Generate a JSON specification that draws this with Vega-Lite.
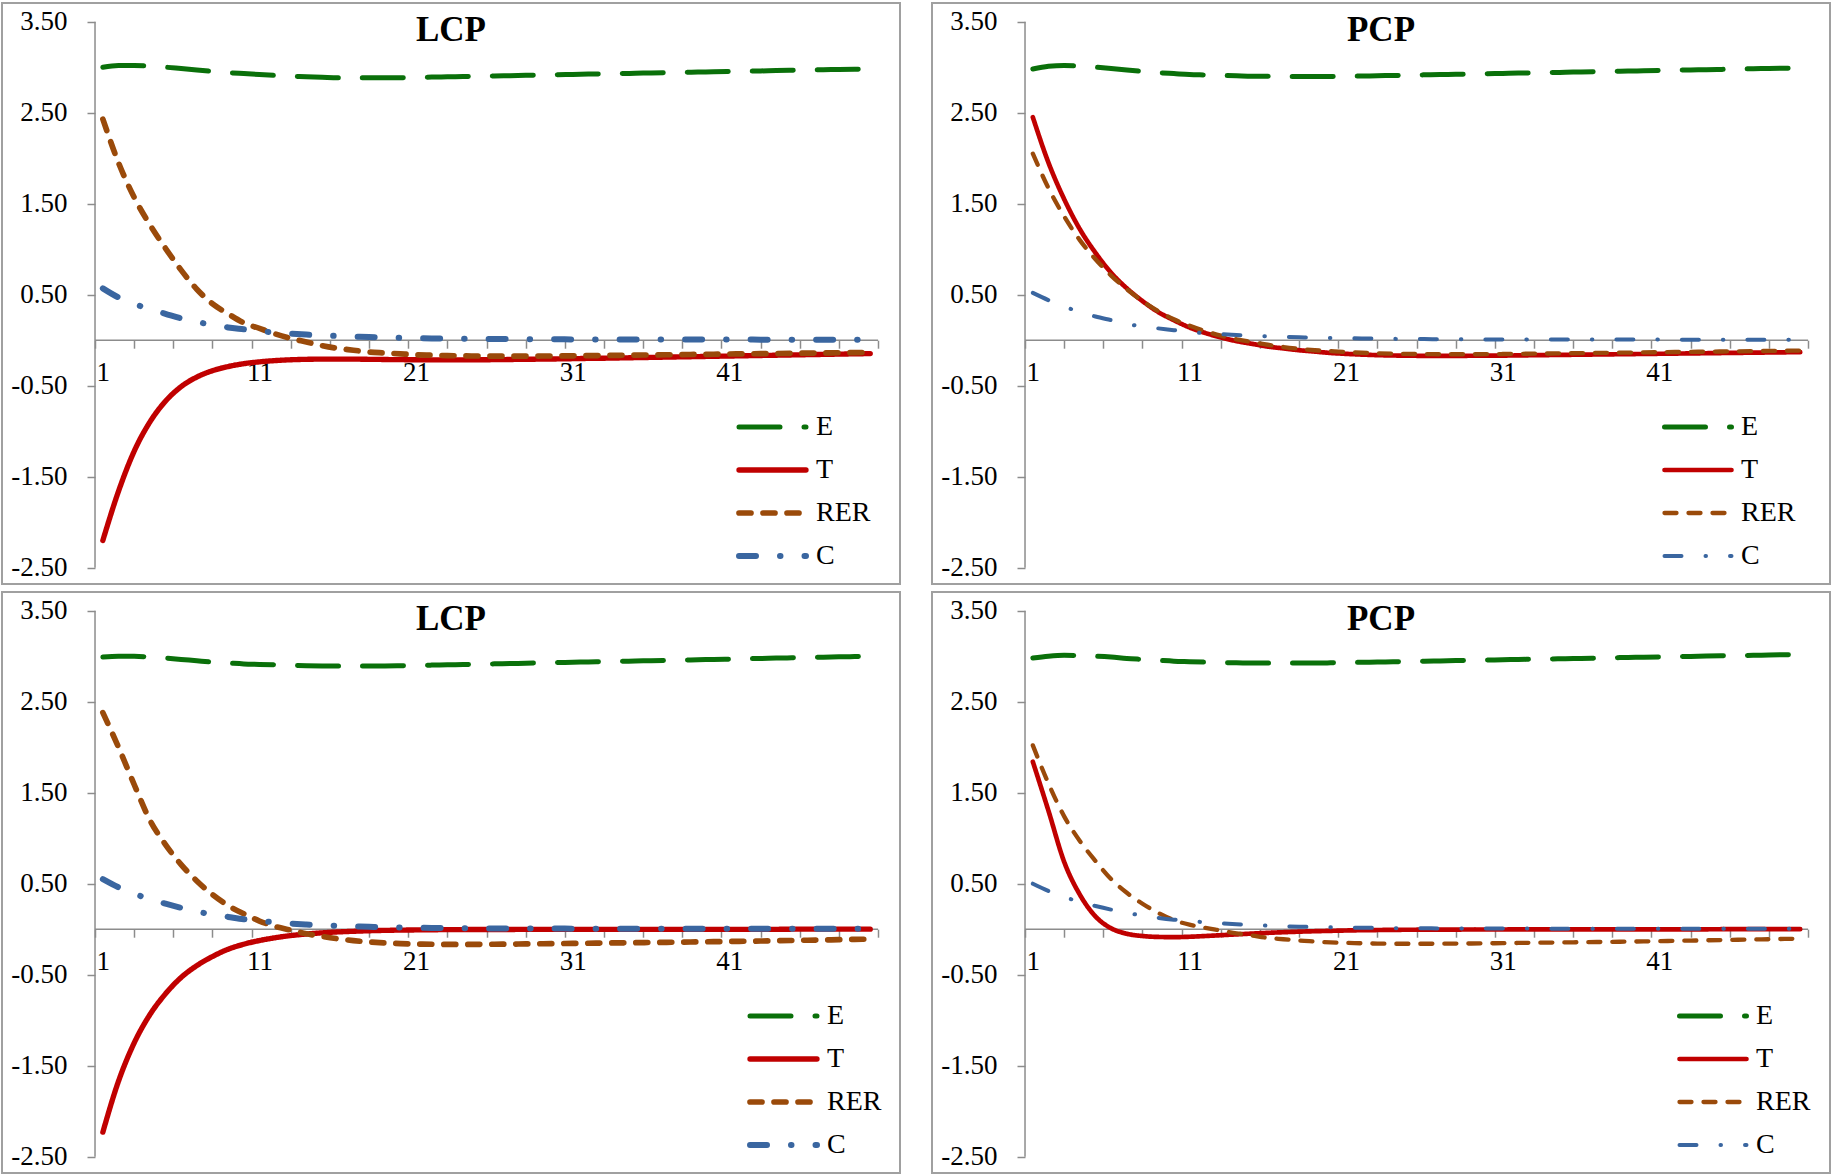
{
"$schema": "https://vega.github.io/schema/vega-lite/v6.json",
"padding": {"left": 1, "top": 2, "right": 0, "bottom": 0},
"background": "white",
"datasets": {
"lcp1": [
{"t":1,"E":3.00,"T":-2.20,"RER":2.43,"C":0.57},
{"t":2,"E":3.02,"T":-1.66,"RER":1.95,"C":0.47},
{"t":3,"E":3.02,"T":-1.22,"RER":1.57,"C":0.40},
{"t":4,"E":3.01,"T":-0.90,"RER":1.27,"C":0.34},
{"t":5,"E":3.00,"T":-0.67,"RER":1.01,"C":0.29},
{"t":6,"E":2.985,"T":-0.51,"RER":0.77,"C":0.24},
{"t":7,"E":2.97,"T":-0.405,"RER":0.56,"C":0.20},
{"t":8,"E":2.955,"T":-0.335,"RER":0.40,"C":0.17},
{"t":9,"E":2.94,"T":-0.29,"RER":0.29,"C":0.14},
{"t":10,"E":2.93,"T":-0.258,"RER":0.19,"C":0.12},
{"t":11,"E":2.92,"T":-0.238,"RER":0.13,"C":0.10},
{"t":12,"E":2.91,"T":-0.224,"RER":0.07,"C":0.085},
{"t":13,"E":2.90,"T":-0.215,"RER":0.02,"C":0.072},
{"t":14,"E":2.895,"T":-0.21,"RER":-0.02,"C":0.062},
{"t":15,"E":2.89,"T":-0.208,"RER":-0.06,"C":0.053},
{"t":16,"E":2.885,"T":-0.207,"RER":-0.09,"C":0.046},
{"t":17,"E":2.885,"T":-0.208,"RER":-0.11,"C":0.040},
{"t":18,"E":2.885,"T":-0.21,"RER":-0.13,"C":0.035},
{"t":19,"E":2.885,"T":-0.212,"RER":-0.14,"C":0.030},
{"t":20,"E":2.885,"T":-0.214,"RER":-0.15,"C":0.026},
{"t":21,"E":2.888,"T":-0.215,"RER":-0.16,"C":0.023},
{"t":22,"E":2.891,"T":-0.216,"RER":-0.165,"C":0.020},
{"t":23,"E":2.894,"T":-0.216,"RER":-0.17,"C":0.018},
{"t":24,"E":2.898,"T":-0.216,"RER":-0.172,"C":0.016},
{"t":25,"E":2.901,"T":-0.215,"RER":-0.174,"C":0.014},
{"t":26,"E":2.904,"T":-0.214,"RER":-0.175,"C":0.013},
{"t":27,"E":2.907,"T":-0.212,"RER":-0.175,"C":0.012},
{"t":28,"E":2.911,"T":-0.21,"RER":-0.175,"C":0.011},
{"t":29,"E":2.914,"T":-0.208,"RER":-0.174,"C":0.010},
{"t":30,"E":2.917,"T":-0.206,"RER":-0.173,"C":0.010},
{"t":31,"E":2.920,"T":-0.203,"RER":-0.172,"C":0.009},
{"t":32,"E":2.924,"T":-0.200,"RER":-0.170,"C":0.009},
{"t":33,"E":2.927,"T":-0.198,"RER":-0.168,"C":0.009},
{"t":34,"E":2.930,"T":-0.195,"RER":-0.166,"C":0.008},
{"t":35,"E":2.933,"T":-0.192,"RER":-0.164,"C":0.008},
{"t":36,"E":2.937,"T":-0.189,"RER":-0.162,"C":0.008},
{"t":37,"E":2.940,"T":-0.186,"RER":-0.160,"C":0.008},
{"t":38,"E":2.943,"T":-0.183,"RER":-0.158,"C":0.007},
{"t":39,"E":2.946,"T":-0.180,"RER":-0.156,"C":0.007},
{"t":40,"E":2.950,"T":-0.177,"RER":-0.154,"C":0.007},
{"t":41,"E":2.953,"T":-0.174,"RER":-0.152,"C":0.007},
{"t":42,"E":2.956,"T":-0.171,"RER":-0.150,"C":0.007},
{"t":43,"E":2.959,"T":-0.168,"RER":-0.148,"C":0.006},
{"t":44,"E":2.963,"T":-0.165,"RER":-0.146,"C":0.006},
{"t":45,"E":2.966,"T":-0.162,"RER":-0.144,"C":0.006},
{"t":46,"E":2.969,"T":-0.159,"RER":-0.142,"C":0.006},
{"t":47,"E":2.972,"T":-0.156,"RER":-0.140,"C":0.006},
{"t":48,"E":2.975,"T":-0.153,"RER":-0.138,"C":0.006},
{"t":49,"E":2.978,"T":-0.150,"RER":-0.136,"C":0.006},
{"t":50,"E":2.981,"T":-0.147,"RER":-0.134,"C":0.006}
],
"pcp1": [
{"t":1,"E":2.98,"T":2.45,"RER":2.05,"C":0.52},
{"t":2,"E":3.01,"T":1.95,"RER":1.67,"C":0.44},
{"t":3,"E":3.02,"T":1.55,"RER":1.36,"C":0.37},
{"t":4,"E":3.01,"T":1.22,"RER":1.10,"C":0.31},
{"t":5,"E":3.00,"T":0.96,"RER":0.89,"C":0.26},
{"t":6,"E":2.985,"T":0.74,"RER":0.71,"C":0.22},
{"t":7,"E":2.97,"T":0.57,"RER":0.56,"C":0.18},
{"t":8,"E":2.955,"T":0.43,"RER":0.43,"C":0.15},
{"t":9,"E":2.94,"T":0.31,"RER":0.32,"C":0.13},
{"t":10,"E":2.93,"T":0.22,"RER":0.23,"C":0.11},
{"t":11,"E":2.92,"T":0.14,"RER":0.16,"C":0.09},
{"t":12,"E":2.915,"T":0.08,"RER":0.10,"C":0.077},
{"t":13,"E":2.91,"T":0.03,"RER":0.05,"C":0.066},
{"t":14,"E":2.905,"T":-0.01,"RER":0.01,"C":0.057},
{"t":15,"E":2.90,"T":-0.04,"RER":-0.02,"C":0.049},
{"t":16,"E":2.90,"T":-0.07,"RER":-0.05,"C":0.043},
{"t":17,"E":2.898,"T":-0.09,"RER":-0.075,"C":0.037},
{"t":18,"E":2.898,"T":-0.11,"RER":-0.095,"C":0.032},
{"t":19,"E":2.898,"T":-0.125,"RER":-0.11,"C":0.028},
{"t":20,"E":2.898,"T":-0.14,"RER":-0.12,"C":0.025},
{"t":21,"E":2.90,"T":-0.15,"RER":-0.13,"C":0.022},
{"t":22,"E":2.903,"T":-0.158,"RER":-0.138,"C":0.019},
{"t":23,"E":2.906,"T":-0.164,"RER":-0.144,"C":0.017},
{"t":24,"E":2.909,"T":-0.168,"RER":-0.148,"C":0.015},
{"t":25,"E":2.912,"T":-0.17,"RER":-0.151,"C":0.013},
{"t":26,"E":2.916,"T":-0.172,"RER":-0.153,"C":0.012},
{"t":27,"E":2.919,"T":-0.172,"RER":-0.154,"C":0.011},
{"t":28,"E":2.922,"T":-0.172,"RER":-0.154,"C":0.010},
{"t":29,"E":2.925,"T":-0.171,"RER":-0.154,"C":0.010},
{"t":30,"E":2.928,"T":-0.170,"RER":-0.153,"C":0.009},
{"t":31,"E":2.932,"T":-0.169,"RER":-0.152,"C":0.009},
{"t":32,"E":2.935,"T":-0.167,"RER":-0.150,"C":0.009},
{"t":33,"E":2.938,"T":-0.165,"RER":-0.148,"C":0.008},
{"t":34,"E":2.941,"T":-0.163,"RER":-0.146,"C":0.008},
{"t":35,"E":2.944,"T":-0.161,"RER":-0.144,"C":0.008},
{"t":36,"E":2.948,"T":-0.159,"RER":-0.142,"C":0.008},
{"t":37,"E":2.951,"T":-0.157,"RER":-0.140,"C":0.007},
{"t":38,"E":2.954,"T":-0.155,"RER":-0.138,"C":0.007},
{"t":39,"E":2.957,"T":-0.153,"RER":-0.136,"C":0.007},
{"t":40,"E":2.960,"T":-0.151,"RER":-0.134,"C":0.007},
{"t":41,"E":2.964,"T":-0.149,"RER":-0.132,"C":0.007},
{"t":42,"E":2.967,"T":-0.147,"RER":-0.130,"C":0.006},
{"t":43,"E":2.970,"T":-0.145,"RER":-0.128,"C":0.006},
{"t":44,"E":2.973,"T":-0.143,"RER":-0.126,"C":0.006},
{"t":45,"E":2.976,"T":-0.141,"RER":-0.124,"C":0.006},
{"t":46,"E":2.980,"T":-0.139,"RER":-0.122,"C":0.006},
{"t":47,"E":2.983,"T":-0.137,"RER":-0.120,"C":0.006},
{"t":48,"E":2.986,"T":-0.135,"RER":-0.118,"C":0.006},
{"t":49,"E":2.989,"T":-0.133,"RER":-0.116,"C":0.006},
{"t":50,"E":2.993,"T":-0.131,"RER":-0.114,"C":0.006}
],
"lcp2": [
{"t":1,"E":2.99,"T":-2.23,"RER":2.38,"C":0.55},
{"t":2,"E":3.00,"T":-1.67,"RER":2.00,"C":0.46},
{"t":3,"E":3.00,"T":-1.25,"RER":1.59,"C":0.39},
{"t":4,"E":2.99,"T":-0.94,"RER":1.20,"C":0.33},
{"t":5,"E":2.98,"T":-0.71,"RER":0.93,"C":0.28},
{"t":6,"E":2.965,"T":-0.53,"RER":0.71,"C":0.235},
{"t":7,"E":2.95,"T":-0.40,"RER":0.53,"C":0.195},
{"t":8,"E":2.935,"T":-0.30,"RER":0.38,"C":0.16},
{"t":9,"E":2.925,"T":-0.22,"RER":0.26,"C":0.135},
{"t":10,"E":2.915,"T":-0.165,"RER":0.17,"C":0.11},
{"t":11,"E":2.91,"T":-0.125,"RER":0.09,"C":0.09},
{"t":12,"E":2.905,"T":-0.094,"RER":0.03,"C":0.075},
{"t":13,"E":2.90,"T":-0.07,"RER":-0.01,"C":0.062},
{"t":14,"E":2.895,"T":-0.053,"RER":-0.05,"C":0.052},
{"t":15,"E":2.893,"T":-0.04,"RER":-0.08,"C":0.044},
{"t":16,"E":2.892,"T":-0.03,"RER":-0.105,"C":0.037},
{"t":17,"E":2.892,"T":-0.023,"RER":-0.125,"C":0.031},
{"t":18,"E":2.892,"T":-0.017,"RER":-0.14,"C":0.026},
{"t":19,"E":2.893,"T":-0.013,"RER":-0.15,"C":0.022},
{"t":20,"E":2.895,"T":-0.01,"RER":-0.158,"C":0.019},
{"t":21,"E":2.898,"T":-0.008,"RER":-0.163,"C":0.016},
{"t":22,"E":2.902,"T":-0.006,"RER":-0.165,"C":0.014},
{"t":23,"E":2.905,"T":-0.005,"RER":-0.167,"C":0.012},
{"t":24,"E":2.909,"T":-0.004,"RER":-0.167,"C":0.010},
{"t":25,"E":2.912,"T":-0.003,"RER":-0.166,"C":0.009},
{"t":26,"E":2.916,"T":-0.003,"RER":-0.165,"C":0.008},
{"t":27,"E":2.919,"T":-0.003,"RER":-0.164,"C":0.008},
{"t":28,"E":2.923,"T":-0.002,"RER":-0.162,"C":0.007},
{"t":29,"E":2.926,"T":-0.002,"RER":-0.160,"C":0.007},
{"t":30,"E":2.930,"T":-0.002,"RER":-0.158,"C":0.007},
{"t":31,"E":2.933,"T":-0.002,"RER":-0.156,"C":0.006},
{"t":32,"E":2.937,"T":-0.002,"RER":-0.154,"C":0.006},
{"t":33,"E":2.940,"T":-0.001,"RER":-0.152,"C":0.006},
{"t":34,"E":2.944,"T":-0.001,"RER":-0.150,"C":0.006},
{"t":35,"E":2.947,"T":-0.001,"RER":-0.148,"C":0.005},
{"t":36,"E":2.951,"T":-0.001,"RER":-0.146,"C":0.005},
{"t":37,"E":2.954,"T":-0.001,"RER":-0.144,"C":0.005},
{"t":38,"E":2.958,"T":-0.001,"RER":-0.142,"C":0.005},
{"t":39,"E":2.961,"T":-0.001,"RER":-0.139,"C":0.005},
{"t":40,"E":2.965,"T":-0.001,"RER":-0.137,"C":0.005},
{"t":41,"E":2.968,"T":-0.001,"RER":-0.135,"C":0.005},
{"t":42,"E":2.972,"T":-0.001,"RER":-0.132,"C":0.004},
{"t":43,"E":2.975,"T":-0.001,"RER":-0.130,"C":0.004},
{"t":44,"E":2.979,"T":-0.001,"RER":-0.127,"C":0.004},
{"t":45,"E":2.982,"T":0.000,"RER":-0.124,"C":0.004},
{"t":46,"E":2.986,"T":0.000,"RER":-0.121,"C":0.004},
{"t":47,"E":2.989,"T":0.000,"RER":-0.118,"C":0.004},
{"t":48,"E":2.993,"T":0.000,"RER":-0.115,"C":0.004},
{"t":49,"E":2.996,"T":0.000,"RER":-0.112,"C":0.004},
{"t":50,"E":3.000,"T":0.000,"RER":-0.109,"C":0.004}
],
"pcp2": [
{"t":1,"E":2.98,"T":1.84,"RER":2.02,"C":0.50},
{"t":2,"E":3.00,"T":1.30,"RER":1.60,"C":0.42},
{"t":3,"E":3.01,"T":0.74,"RER":1.24,"C":0.355},
{"t":4,"E":3.005,"T":0.38,"RER":0.97,"C":0.30},
{"t":5,"E":3.00,"T":0.14,"RER":0.75,"C":0.255},
{"t":6,"E":2.99,"T":0.01,"RER":0.55,"C":0.215},
{"t":7,"E":2.975,"T":-0.05,"RER":0.40,"C":0.18},
{"t":8,"E":2.965,"T":-0.075,"RER":0.28,"C":0.15},
{"t":9,"E":2.955,"T":-0.085,"RER":0.18,"C":0.125},
{"t":10,"E":2.945,"T":-0.087,"RER":0.10,"C":0.105},
{"t":11,"E":2.94,"T":-0.083,"RER":0.05,"C":0.09},
{"t":12,"E":2.935,"T":-0.075,"RER":0.015,"C":0.076},
{"t":13,"E":2.93,"T":-0.066,"RER":-0.015,"C":0.064},
{"t":14,"E":2.927,"T":-0.057,"RER":-0.045,"C":0.054},
{"t":15,"E":2.925,"T":-0.048,"RER":-0.07,"C":0.046},
{"t":16,"E":2.924,"T":-0.04,"RER":-0.095,"C":0.039},
{"t":17,"E":2.924,"T":-0.033,"RER":-0.11,"C":0.033},
{"t":18,"E":2.924,"T":-0.027,"RER":-0.125,"C":0.028},
{"t":19,"E":2.925,"T":-0.022,"RER":-0.135,"C":0.024},
{"t":20,"E":2.927,"T":-0.018,"RER":-0.145,"C":0.021},
{"t":21,"E":2.930,"T":-0.014,"RER":-0.15,"C":0.018},
{"t":22,"E":2.933,"T":-0.011,"RER":-0.155,"C":0.016},
{"t":23,"E":2.936,"T":-0.009,"RER":-0.158,"C":0.014},
{"t":24,"E":2.939,"T":-0.007,"RER":-0.16,"C":0.012},
{"t":25,"E":2.942,"T":-0.006,"RER":-0.16,"C":0.011},
{"t":26,"E":2.945,"T":-0.005,"RER":-0.16,"C":0.010},
{"t":27,"E":2.948,"T":-0.004,"RER":-0.159,"C":0.009},
{"t":28,"E":2.952,"T":-0.004,"RER":-0.158,"C":0.009},
{"t":29,"E":2.955,"T":-0.003,"RER":-0.157,"C":0.008},
{"t":30,"E":2.958,"T":-0.003,"RER":-0.155,"C":0.008},
{"t":31,"E":2.961,"T":-0.003,"RER":-0.153,"C":0.007},
{"t":32,"E":2.964,"T":-0.002,"RER":-0.151,"C":0.007},
{"t":33,"E":2.967,"T":-0.002,"RER":-0.149,"C":0.007},
{"t":34,"E":2.970,"T":-0.002,"RER":-0.147,"C":0.006},
{"t":35,"E":2.973,"T":-0.002,"RER":-0.145,"C":0.006},
{"t":36,"E":2.976,"T":-0.002,"RER":-0.143,"C":0.006},
{"t":37,"E":2.979,"T":-0.001,"RER":-0.141,"C":0.006},
{"t":38,"E":2.983,"T":-0.001,"RER":-0.139,"C":0.006},
{"t":39,"E":2.986,"T":-0.001,"RER":-0.136,"C":0.005},
{"t":40,"E":2.989,"T":-0.001,"RER":-0.134,"C":0.005},
{"t":41,"E":2.992,"T":-0.001,"RER":-0.131,"C":0.005},
{"t":42,"E":2.995,"T":-0.001,"RER":-0.128,"C":0.005},
{"t":43,"E":2.998,"T":-0.001,"RER":-0.125,"C":0.005},
{"t":44,"E":3.001,"T":-0.001,"RER":-0.122,"C":0.005},
{"t":45,"E":3.004,"T":0.000,"RER":-0.119,"C":0.005},
{"t":46,"E":3.007,"T":0.000,"RER":-0.116,"C":0.005},
{"t":47,"E":3.010,"T":0.000,"RER":-0.113,"C":0.005},
{"t":48,"E":3.013,"T":0.000,"RER":-0.110,"C":0.005},
{"t":49,"E":3.016,"T":0.000,"RER":-0.107,"C":0.005},
{"t":50,"E":3.019,"T":0.000,"RER":-0.104,"C":0.005}
]
},
"spacing": 6,
"resolve": {"scale": {"color": "independent", "strokeDash": "independent", "strokeWidth": "independent"}},
"vconcat": [
{"hconcat": [
{"width": 898, "height": 581,
 "title": {"text": "LCP", "offset": -45},
 "layer": [
  {"data": {"values": [{}]}, "mark": {"type": "rule", "color": "#8c8c8c", "strokeWidth": 1.5}, "encoding": {"x": {"datum": 0.5, "type": "quantitative"}, "y": {"datum": -2.5, "type": "quantitative"}, "y2": {"datum": 3.5}}},
  {"data": {"values": [{}]}, "mark": {"type": "rule", "color": "#8c8c8c", "strokeWidth": 1.5}, "encoding": {"x": {"datum": 0.5, "type": "quantitative"}, "x2": {"datum": 50.5}, "y": {"datum": 0, "type": "quantitative"}}},
  {"data": {"name": "lcp1"},
   "transform": [{"fold": ["E", "T", "RER", "C"], "as": ["series", "value"]}],
   "mark": {"type": "line", "strokeCap": "round", "interpolate": "monotone"},
   "encoding": {
    "x": {"field": "t", "type": "quantitative", "scale": {"domain": [-5.439, 51.9], "nice": false, "zero": false},
      "axis": {"orient": "bottom", "offset": -243.8, "domain": false, "grid": false, "title": null,
        "values": [0.5,3,5.5,8,10.5,13,15.5,18,20.5,23,25.5,28,30.5,33,35.5,38,40.5,43,45.5,48,50.5],
        "tickSize": 8, "tickColor": "#8c8c8c", "tickWidth": 1.5,
        "labelExpr": "((datum.value + 9.5) % 10 == 0 && datum.value < 50) ? format(datum.value + 0.5, 'd') : ''",
        "labelOffset": 7.8,
        "labelFont": "Liberation Serif", "labelFontSize": 27, "labelColor": "#000", "labelPadding": 11,
        "labelOverlap": false, "labelFlush": false, "labelBound": false}},
    "y": {"field": "value", "type": "quantitative", "scale": {"domain": [-2.679, 3.7055], "nice": false, "zero": false},
      "axis": {"orient": "left", "offset": -93, "domain": false, "grid": false, "title": null,
        "values": [-2.5,-1.5,-0.5,0.5,1.5,2.5,3.5],
        "tickSize": 8, "tickColor": "#8c8c8c", "tickWidth": 1.5,
        "labelExpr": "(datum.value < 0 ? '-' : '') + format(abs(datum.value), '.2f')",
        "labelFont": "Liberation Serif", "labelFontSize": 27, "labelColor": "#000", "labelPadding": 20}},
    "strokeWidth": {"field": "series", "type": "nominal", "scale": {"domain": ["E", "T", "RER", "C"], "range": [5, 6, 5, 5]}, "legend": null},
    "color": {"field": "series", "type": "nominal", "scale": {"domain": ["E", "T", "RER", "C"], "range": ["#0a700a", "#c00000", "#9a4a0a", "#3a66a0"]},
      "legend": {"orient": "none", "legendX": 734, "legendY": 403.5, "title": null, "symbolType": "stroke", "symbolSize": 4489, "symbolStrokeWidth": 5, "labelFont": "Liberation Serif", "labelFontSize": 28, "labelColor": "#000", "labelOffset": 7, "clipHeight": 41, "rowPadding": 2, "padding": 0,
        "encode": {"symbols": {"update": {"strokeWidth": {"value": 5}, "strokeCap": {"value": "round"}}}}}},
    "strokeDash": {"field": "series", "type": "nominal", "scale": {"domain": ["E", "T", "RER", "C"], "range": [[41, 24], [1, 0], [12, 12], [17, 24, 0.5, 24]]},
      "legend": {"orient": "none", "legendX": 734, "legendY": 403.5, "title": null, "symbolType": "stroke", "symbolSize": 4489, "symbolStrokeWidth": 5, "labelFont": "Liberation Serif", "labelFontSize": 28, "labelColor": "#000", "labelOffset": 7, "clipHeight": 41, "rowPadding": 2, "padding": 0,
        "encode": {"symbols": {"update": {"strokeWidth": {"value": 5}, "strokeCap": {"value": "round"}}}}}}
   }}
 ]},
{"width": 898, "height": 581,
 "title": {"text": "PCP", "offset": -45},
 "layer": [
  {"data": {"values": [{}]}, "mark": {"type": "rule", "color": "#8c8c8c", "strokeWidth": 1.5}, "encoding": {"x": {"datum": 0.5, "type": "quantitative"}, "y": {"datum": -2.5, "type": "quantitative"}, "y2": {"datum": 3.5}}},
  {"data": {"values": [{}]}, "mark": {"type": "rule", "color": "#8c8c8c", "strokeWidth": 1.5}, "encoding": {"x": {"datum": 0.5, "type": "quantitative"}, "x2": {"datum": 50.5}, "y": {"datum": 0, "type": "quantitative"}}},
  {"data": {"name": "pcp1"},
   "transform": [{"fold": ["E", "T", "RER", "C"], "as": ["series", "value"]}],
   "mark": {"type": "line", "strokeCap": "round", "interpolate": "monotone"},
   "encoding": {
    "x": {"field": "t", "type": "quantitative", "scale": {"domain": [-5.439, 51.9], "nice": false, "zero": false},
      "axis": {"orient": "bottom", "offset": -243.8, "domain": false, "grid": false, "title": null,
        "values": [0.5,3,5.5,8,10.5,13,15.5,18,20.5,23,25.5,28,30.5,33,35.5,38,40.5,43,45.5,48,50.5],
        "tickSize": 8, "tickColor": "#8c8c8c", "tickWidth": 1.5,
        "labelExpr": "((datum.value + 9.5) % 10 == 0 && datum.value < 50) ? format(datum.value + 0.5, 'd') : ''",
        "labelOffset": 7.8,
        "labelFont": "Liberation Serif", "labelFontSize": 27, "labelColor": "#000", "labelPadding": 11,
        "labelOverlap": false, "labelFlush": false, "labelBound": false}},
    "y": {"field": "value", "type": "quantitative", "scale": {"domain": [-2.679, 3.7055], "nice": false, "zero": false},
      "axis": {"orient": "left", "offset": -93, "domain": false, "grid": false, "title": null,
        "values": [-2.5,-1.5,-0.5,0.5,1.5,2.5,3.5],
        "tickSize": 8, "tickColor": "#8c8c8c", "tickWidth": 1.5,
        "labelExpr": "(datum.value < 0 ? '-' : '') + format(abs(datum.value), '.2f')",
        "labelFont": "Liberation Serif", "labelFontSize": 27, "labelColor": "#000", "labelPadding": 20}},
    "strokeWidth": {"field": "series", "type": "nominal", "scale": {"domain": ["E", "T", "RER", "C"], "range": [5, 4, 5, 5]}, "legend": null},
    "color": {"field": "series", "type": "nominal", "scale": {"domain": ["E", "T", "RER", "C"], "range": ["#0a700a", "#c00000", "#9a4a0a", "#3a66a0"]},
      "legend": {"orient": "none", "legendX": 730, "legendY": 403.5, "title": null, "symbolType": "stroke", "symbolSize": 4489, "symbolStrokeWidth": 5, "labelFont": "Liberation Serif", "labelFontSize": 28, "labelColor": "#000", "labelOffset": 7, "clipHeight": 41, "rowPadding": 2, "padding": 0,
        "encode": {"symbols": {"update": {"strokeWidth": {"value": 5}, "strokeCap": {"value": "round"}}}}}},
    "strokeDash": {"field": "series", "type": "nominal", "scale": {"domain": ["E", "T", "RER", "C"], "range": [[41, 24], [1, 0], [12, 12], [17, 24, 0.5, 24]]},
      "legend": {"orient": "none", "legendX": 730, "legendY": 403.5, "title": null, "symbolType": "stroke", "symbolSize": 4489, "symbolStrokeWidth": 5, "labelFont": "Liberation Serif", "labelFontSize": 28, "labelColor": "#000", "labelOffset": 7, "clipHeight": 41, "rowPadding": 2, "padding": 0,
        "encode": {"symbols": {"update": {"strokeWidth": {"value": 5}, "strokeCap": {"value": "round"}}}}}}
   }}
 ]}
], "spacing": 32, "bounds": "flush", "resolve": {"scale": {"color": "independent", "strokeDash": "independent", "strokeWidth": "independent"}}},
{"hconcat": [
{"width": 898, "height": 581,
 "title": {"text": "LCP", "offset": -45},
 "layer": [
  {"data": {"values": [{}]}, "mark": {"type": "rule", "color": "#8c8c8c", "strokeWidth": 1.5}, "encoding": {"x": {"datum": 0.5, "type": "quantitative"}, "y": {"datum": -2.5, "type": "quantitative"}, "y2": {"datum": 3.5}}},
  {"data": {"values": [{}]}, "mark": {"type": "rule", "color": "#8c8c8c", "strokeWidth": 1.5}, "encoding": {"x": {"datum": 0.5, "type": "quantitative"}, "x2": {"datum": 50.5}, "y": {"datum": 0, "type": "quantitative"}}},
  {"data": {"name": "lcp2"},
   "transform": [{"fold": ["E", "T", "RER", "C"], "as": ["series", "value"]}],
   "mark": {"type": "line", "strokeCap": "round", "interpolate": "monotone"},
   "encoding": {
    "x": {"field": "t", "type": "quantitative", "scale": {"domain": [-5.439, 51.9], "nice": false, "zero": false},
      "axis": {"orient": "bottom", "offset": -243.8, "domain": false, "grid": false, "title": null,
        "values": [0.5,3,5.5,8,10.5,13,15.5,18,20.5,23,25.5,28,30.5,33,35.5,38,40.5,43,45.5,48,50.5],
        "tickSize": 8, "tickColor": "#8c8c8c", "tickWidth": 1.5,
        "labelExpr": "((datum.value + 9.5) % 10 == 0 && datum.value < 50) ? format(datum.value + 0.5, 'd') : ''",
        "labelOffset": 7.8,
        "labelFont": "Liberation Serif", "labelFontSize": 27, "labelColor": "#000", "labelPadding": 11,
        "labelOverlap": false, "labelFlush": false, "labelBound": false}},
    "y": {"field": "value", "type": "quantitative", "scale": {"domain": [-2.679, 3.7055], "nice": false, "zero": false},
      "axis": {"orient": "left", "offset": -93, "domain": false, "grid": false, "title": null,
        "values": [-2.5,-1.5,-0.5,0.5,1.5,2.5,3.5],
        "tickSize": 8, "tickColor": "#8c8c8c", "tickWidth": 1.5,
        "labelExpr": "(datum.value < 0 ? '-' : '') + format(abs(datum.value), '.2f')",
        "labelFont": "Liberation Serif", "labelFontSize": 27, "labelColor": "#000", "labelPadding": 20}},
    "strokeWidth": {"field": "series", "type": "nominal", "scale": {"domain": ["E", "T", "RER", "C"], "range": [5, 6, 5, 5]}, "legend": null},
    "color": {"field": "series", "type": "nominal", "scale": {"domain": ["E", "T", "RER", "C"], "range": ["#0a700a", "#c00000", "#9a4a0a", "#3a66a0"]},
      "legend": {"orient": "none", "legendX": 745, "legendY": 403.5, "title": null, "symbolType": "stroke", "symbolSize": 4489, "symbolStrokeWidth": 5, "labelFont": "Liberation Serif", "labelFontSize": 28, "labelColor": "#000", "labelOffset": 7, "clipHeight": 41, "rowPadding": 2, "padding": 0,
        "encode": {"symbols": {"update": {"strokeWidth": {"value": 5}, "strokeCap": {"value": "round"}}}}}},
    "strokeDash": {"field": "series", "type": "nominal", "scale": {"domain": ["E", "T", "RER", "C"], "range": [[41, 24], [1, 0], [12, 12], [17, 24, 0.5, 24]]},
      "legend": {"orient": "none", "legendX": 745, "legendY": 403.5, "title": null, "symbolType": "stroke", "symbolSize": 4489, "symbolStrokeWidth": 5, "labelFont": "Liberation Serif", "labelFontSize": 28, "labelColor": "#000", "labelOffset": 7, "clipHeight": 41, "rowPadding": 2, "padding": 0,
        "encode": {"symbols": {"update": {"strokeWidth": {"value": 5}, "strokeCap": {"value": "round"}}}}}}
   }}
 ]},
{"width": 898, "height": 581,
 "title": {"text": "PCP", "offset": -45},
 "layer": [
  {"data": {"values": [{}]}, "mark": {"type": "rule", "color": "#8c8c8c", "strokeWidth": 1.5}, "encoding": {"x": {"datum": 0.5, "type": "quantitative"}, "y": {"datum": -2.5, "type": "quantitative"}, "y2": {"datum": 3.5}}},
  {"data": {"values": [{}]}, "mark": {"type": "rule", "color": "#8c8c8c", "strokeWidth": 1.5}, "encoding": {"x": {"datum": 0.5, "type": "quantitative"}, "x2": {"datum": 50.5}, "y": {"datum": 0, "type": "quantitative"}}},
  {"data": {"name": "pcp2"},
   "transform": [{"fold": ["E", "T", "RER", "C"], "as": ["series", "value"]}],
   "mark": {"type": "line", "strokeCap": "round", "interpolate": "monotone"},
   "encoding": {
    "x": {"field": "t", "type": "quantitative", "scale": {"domain": [-5.439, 51.9], "nice": false, "zero": false},
      "axis": {"orient": "bottom", "offset": -243.8, "domain": false, "grid": false, "title": null,
        "values": [0.5,3,5.5,8,10.5,13,15.5,18,20.5,23,25.5,28,30.5,33,35.5,38,40.5,43,45.5,48,50.5],
        "tickSize": 8, "tickColor": "#8c8c8c", "tickWidth": 1.5,
        "labelExpr": "((datum.value + 9.5) % 10 == 0 && datum.value < 50) ? format(datum.value + 0.5, 'd') : ''",
        "labelOffset": 7.8,
        "labelFont": "Liberation Serif", "labelFontSize": 27, "labelColor": "#000", "labelPadding": 11,
        "labelOverlap": false, "labelFlush": false, "labelBound": false}},
    "y": {"field": "value", "type": "quantitative", "scale": {"domain": [-2.679, 3.7055], "nice": false, "zero": false},
      "axis": {"orient": "left", "offset": -93, "domain": false, "grid": false, "title": null,
        "values": [-2.5,-1.5,-0.5,0.5,1.5,2.5,3.5],
        "tickSize": 8, "tickColor": "#8c8c8c", "tickWidth": 1.5,
        "labelExpr": "(datum.value < 0 ? '-' : '') + format(abs(datum.value), '.2f')",
        "labelFont": "Liberation Serif", "labelFontSize": 27, "labelColor": "#000", "labelPadding": 20}},
    "strokeWidth": {"field": "series", "type": "nominal", "scale": {"domain": ["E", "T", "RER", "C"], "range": [5, 4, 5, 5]}, "legend": null},
    "color": {"field": "series", "type": "nominal", "scale": {"domain": ["E", "T", "RER", "C"], "range": ["#0a700a", "#c00000", "#9a4a0a", "#3a66a0"]},
      "legend": {"orient": "none", "legendX": 745, "legendY": 403.5, "title": null, "symbolType": "stroke", "symbolSize": 4489, "symbolStrokeWidth": 5, "labelFont": "Liberation Serif", "labelFontSize": 28, "labelColor": "#000", "labelOffset": 7, "clipHeight": 41, "rowPadding": 2, "padding": 0,
        "encode": {"symbols": {"update": {"strokeWidth": {"value": 5}, "strokeCap": {"value": "round"}}}}}},
    "strokeDash": {"field": "series", "type": "nominal", "scale": {"domain": ["E", "T", "RER", "C"], "range": [[41, 24], [1, 0], [12, 12], [17, 24, 0.5, 24]]},
      "legend": {"orient": "none", "legendX": 745, "legendY": 403.5, "title": null, "symbolType": "stroke", "symbolSize": 4489, "symbolStrokeWidth": 5, "labelFont": "Liberation Serif", "labelFontSize": 28, "labelColor": "#000", "labelOffset": 7, "clipHeight": 41, "rowPadding": 2, "padding": 0,
        "encode": {"symbols": {"update": {"strokeWidth": {"value": 5}, "strokeCap": {"value": "round"}}}}}}
   }}
 ]}
], "spacing": 32, "bounds": "flush", "resolve": {"scale": {"color": "independent", "strokeDash": "independent", "strokeWidth": "independent"}}}
],
"config": {
 "view": {"stroke": "#a0a0a0", "strokeWidth": 2},
 "title": {"font": "Liberation Serif", "fontSize": 35, "fontWeight": "bold", "color": "#000", "anchor": "middle"},
 "font": "Liberation Serif"
}
}
